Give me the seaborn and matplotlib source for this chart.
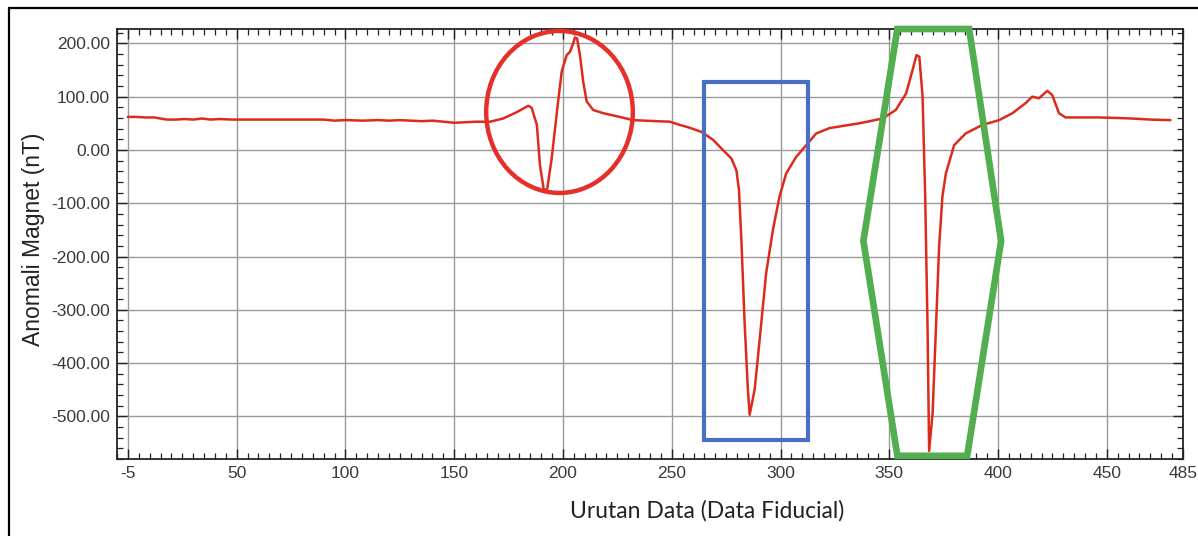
import matplotlib
matplotlib.use("Agg")
import matplotlib.pyplot as plt
import matplotlib.patches as mpatches
from matplotlib.lines import Line2D
from matplotlib.ticker import MultipleLocator, FixedLocator
import seaborn as sns
import pandas as pd

# ---- data ----
fiducial = [0, 4, 8, 12, 15, 18, 22, 26, 30, 34, 38, 42, 48, 55, 62, 70, 80, 90, 95,
            100, 108, 115, 120, 125, 130, 135, 140, 145, 150, 155, 160,
            166.5, 172.5, 178.8, 184.1, 185.6, 188, 189.4, 191.3, 192.8, 194.8, 197.4,
            199.4, 201.7, 203.2, 204.7, 205.5, 206.5, 207.8, 209.3, 210.9, 213.9,
            218.5, 226.1, 232.2, 242.9, 249.1,
            253.7, 258, 263.6, 269, 273.5, 277.4, 279.7, 280.9, 282, 283.5, 285,
            285.8, 288.1, 290.4, 293.4, 296.5, 299.5, 302.6, 307.2, 311.8, 316.4,
            322.5, 327, 336.2, 346.9, 353, 357.7, 360.7, 362.5, 363.8, 365.3, 366.5,
            367.6, 368.3, 369.9, 371.4, 372.9, 374.4, 376, 379.8, 385.1, 392.8,
            400.5, 406.6, 412.7, 415.7, 418.8, 422.6, 424.9, 428, 431, 440, 446.3,
            455, 461.6, 470, 479.2]
anomaly = [62, 62, 61, 61, 59, 57, 57, 58, 57, 59, 57, 58, 57, 57, 57, 57, 57, 57, 55,
           56, 55, 56, 55, 56, 55, 54, 55, 53, 51, 52, 53,
           53, 59, 71, 83, 79, 47, -28, -78, -72, -16, 78,
           147, 178, 184, 200, 211, 209, 178, 128, 91, 75,
           69, 62, 56, 54, 53,
           47, 42, 34, 19, 0, -16, -38, -75, -169, -325, -450,
           -497, -450, -356, -231, -150, -88, -44, -13, 9, 31,
           41, 44, 50, 59, 75, 106, 150, 178, 175, 100, -88,
           -338, -565, -494, -338, -181, -88, -44, 9, 31, 47,
           56, 69, 88, 100, 97, 111, 103, 69, 61, 61, 61,
           60, 59, 57, 56]

x_tick_pos = [0, 50, 100, 150, 200, 250, 300, 350, 400, 450, 485]
x_tick_labels = ["-5", "50", "100", "150", "200", "250", "300", "350", "400", "450", "485"]
y_ticks = [200, 100, 0, -100, -200, -300, -400, -500]

df = pd.DataFrame({"Urutan Data": fiducial, "Anomali": anomaly})

sns.set_theme(style="white")
plt.rcParams["font.family"] = ["Liberation Sans", "DejaVu Sans"]

fig = plt.figure(figsize=(11.98, 5.36), dpi=100)
ax = fig.add_axes([117 / 1198, 1 - 459 / 536, 1066 / 1198, 430 / 536])

sns.lineplot(data=df, x="Urutan Data", y="Anomali", ax=ax, color="#dc2b1c",
             linewidth=1.8, sort=False, estimator=None, zorder=3)

ax.set_xlim(-5, 485)
ax.set_ylim(-580, 227)

ax.xaxis.set_major_locator(FixedLocator(x_tick_pos))
ax.set_xticklabels(x_tick_labels)
ax.xaxis.set_minor_locator(MultipleLocator(5))
ax.set_yticks(y_ticks)
ax.set_yticklabels([f"{v:.2f}" for v in y_ticks])
ax.yaxis.set_minor_locator(MultipleLocator(20))

ax.grid(True, which="major", color="#9a9a9a", linewidth=1.0)
for s in ax.spines.values():
    s.set_color("#222222")
    s.set_linewidth(1.3)

ax.tick_params(which="both", direction="in", top=True, right=True, bottom=True, left=True,
               colors="#222222", labelcolor="#3a3a3a", labelsize=12.5)
ax.tick_params(which="major", length=7, width=1.0, pad=5)
ax.tick_params(which="minor", length=4, width=0.9)

ax.set_xlabel("Urutan Data (Data Fiducial)", fontsize=16.5, family=["Lato", "DejaVu Sans"],
              color="#222222")
ax.set_ylabel("Anomali Magnet (nT)", fontsize=16.5, color="#222222")
ax.xaxis.set_label_coords(0.5535, -0.095)
ax.yaxis.set_label_coords(-0.068, 0.51)

# ---- annotation shapes ----
ax.add_patch(mpatches.Ellipse((198.4, 71.3), 67.4, 304, fill=False, edgecolor="#e5302a",
                              linewidth=3.2, zorder=4, clip_on=False))
ax.add_patch(mpatches.Rectangle((264.7, -544), 48.1, 671.6, fill=False, edgecolor="#4a6fc2",
                                linewidth=3.0, zorder=4, clip_on=False))
hexagon = [(353.7, 227), (386.7, 227), (401.4, -170.7), (385.8, -574),
           (353.7, -574), (338.1, -170.7)]
ax.add_patch(mpatches.Polygon(hexagon, closed=True, fill=False, edgecolor="#52ae4e",
                              linewidth=4.8, zorder=4, clip_on=False, joinstyle="miter"))

# ---- outer frame ----
fig.add_artist(Line2D([9 / 1198, 1.0], [1 - 8 / 536, 1 - 8 / 536], transform=fig.transFigure,
                      color="black", linewidth=1.6))
fig.add_artist(Line2D([9 / 1198, 9 / 1198], [0.0, 1 - 8 / 536], transform=fig.transFigure,
                      color="black", linewidth=1.6))

fig.savefig("out.png", dpi=100)
